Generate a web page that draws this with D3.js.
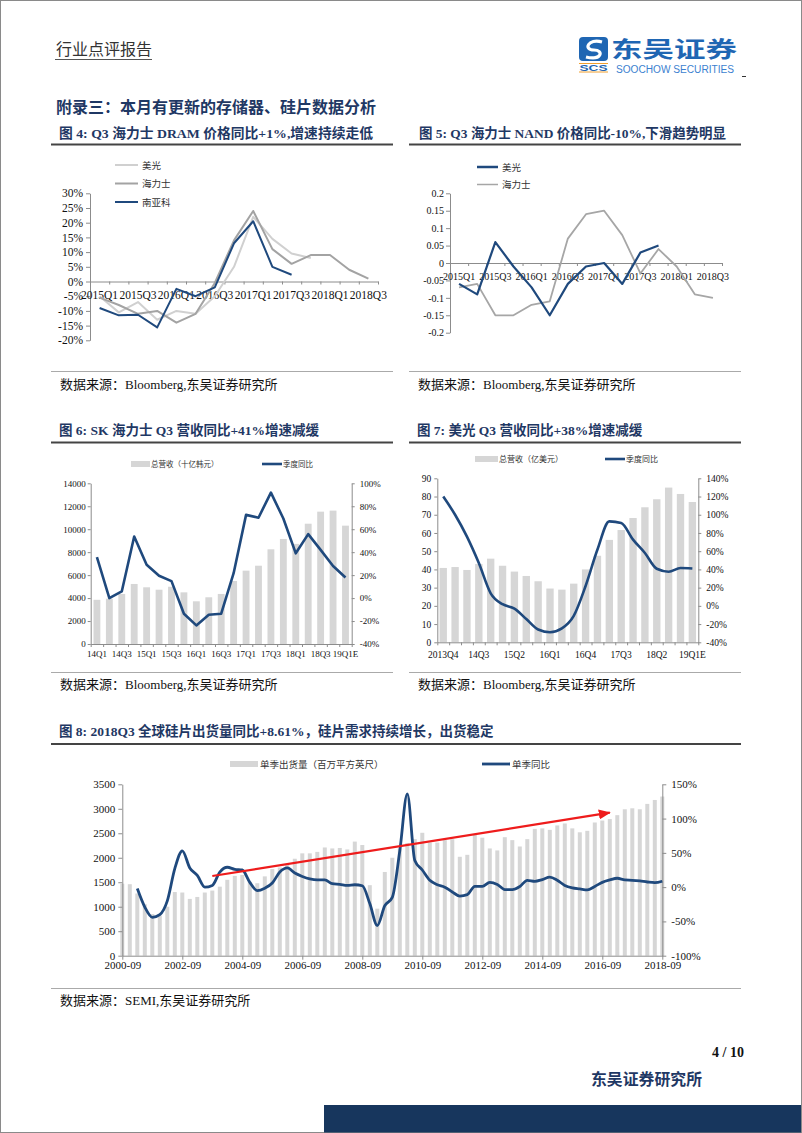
<!DOCTYPE html>
<html><head><meta charset="utf-8">
<script src="https://cdn.jsdelivr.net/npm/d3@7"></script>
<style>
body{margin:0;background:#fff;}
svg{display:block;}
</style></head><body>
<svg id="page" width="802" height="1133"></svg>
<script>
// ---------------- DATA ----------------
// Fig 4: DRAM price YoY (%)
const dramQuarters = ["2015Q1","2015Q2","2015Q3","2015Q4","2016Q1","2016Q2","2016Q3","2016Q4","2017Q1","2017Q2","2017Q3","2017Q4","2018Q1","2018Q2","2018Q3"];
const dramXLabels = ["2015Q1","2015Q3","2016Q1","2016Q3","2017Q1","2017Q3","2018Q1","2018Q3"];
const dramYTicks = [-20,-15,-10,-5,0,5,10,15,20,25,30];
const dramMicron = [-5,-10.5,-7,-13,-10,-11,-5,5,22,14.5,9.5,8];
const dramHynix  = [-5.5,-8,-11,-10,-14,-11,-0.5,14,24,11,6,9,9,4,1];
const dramNanya  = [-9,-11.5,-11.3,-15.6,-2.5,-5,-2,13,20.5,5,2.3];

// Fig 5: NAND price YoY
const nandQuarters = ["2015Q1","2015Q2","2015Q3","2015Q4","2016Q1","2016Q2","2016Q3","2016Q4","2017Q1","2017Q2","2017Q3","2017Q4","2018Q1","2018Q2","2018Q3"];
const nandXLabels = ["2015Q1","2015Q3","2016Q1","2016Q3","2017Q1","2017Q3","2018Q1","2018Q3"];
const nandYTicks = [-0.2,-0.15,-0.1,-0.05,0,0.05,0.1,0.15,0.2];
const nandMicron = [-0.06,-0.09,0.06,-0.01,-0.07,-0.15,-0.06,-0.01,0,-0.06,0.03,0.05];
const nandHynix  = [-0.07,-0.06,-0.15,-0.15,-0.12,-0.11,0.07,0.14,0.15,0.08,-0.03,0.04,-0.01,-0.09,-0.10];

// Fig 6: SK hynix revenue
const skQuarters = ["14Q1","14Q2","14Q3","14Q4","15Q1","15Q2","15Q3","15Q4","16Q1","16Q2","16Q3","16Q4","17Q1","17Q2","17Q3","17Q4","18Q1","18Q2","18Q3","18Q4","19Q1E"];
const skXLabels = ["14Q1","14Q3","15Q1","15Q3","16Q1","16Q3","17Q1","17Q3","18Q1","18Q3","19Q1E"];
const skRevenue = [3850,3950,4360,5230,4940,4730,4990,4500,3720,4070,4360,5490,6390,6820,8250,9150,8720,10480,11530,11620,10310];
const skYoY = [35.6,0,5.8,53.6,29,19.4,14.8,-13.6,-23.8,-14.5,-13.6,21.7,72.5,70,91.9,69.3,39,55.7,42,28,18];
const skLeftTicks = [0,2000,4000,6000,8000,10000,12000,14000];
const skRightTicks = [-40,-20,0,20,40,60,80,100];

// Fig 7: Micron revenue
const muQuarters = ["2013Q4","14Q1","14Q2","14Q3","14Q4","15Q1","15Q2","15Q3","15Q4","16Q1","16Q2","16Q3","16Q4","17Q1","17Q2","17Q3","17Q4","18Q1","18Q2","18Q3","18Q4","19Q1E"];
const muXLabels = ["2013Q4","14Q3","15Q2","16Q1","16Q4","17Q3","18Q2","19Q1E"];
const muRevenue = [40.8,41.3,39.7,43,45.9,42,38.8,36.4,33.5,29.5,28.9,32.2,40,47.5,56.2,61.6,68.2,74.1,78.5,84.9,81.4,77];
const muYoY = [120,100,76,47,13.8,1.8,-3,-14.5,-26,-29,-24.7,-11,21.8,61.8,92.7,91,72.7,58,40.7,37.5,41.5,41];
const muLeftTicks = [0,10,20,30,40,50,60,70,80,90];
const muRightTicks = [-40,-20,0,20,40,60,80,100,120,140];

// Fig 8: global silicon wafer shipments
const waferDates = [
 "2000-09","2000-12",
 "2001-03","2001-06","2001-09","2001-12",
 "2002-03","2002-06","2002-09","2002-12",
 "2003-03","2003-06","2003-09","2003-12",
 "2004-03","2004-06","2004-09","2004-12",
 "2005-03","2005-06","2005-09","2005-12",
 "2006-03","2006-06","2006-09","2006-12",
 "2007-03","2007-06","2007-09","2007-12",
 "2008-03","2008-06","2008-09","2008-12",
 "2009-03","2009-06","2009-09","2009-12",
 "2010-03","2010-06","2010-09","2010-12",
 "2011-03","2011-06","2011-09","2011-12",
 "2012-03","2012-06","2012-09","2012-12",
 "2013-03","2013-06","2013-09","2013-12",
 "2014-03","2014-06","2014-09","2014-12",
 "2015-03","2015-06","2015-09","2015-12",
 "2016-03","2016-06","2016-09","2016-12",
 "2017-03","2017-06","2017-09","2017-12",
 "2018-03","2018-06","2018-09"];
const waferXLabels = ["2000-09","2002-09","2004-09","2006-09","2008-09","2010-09","2012-09","2014-09","2016-09","2018-09"];
const waferShip = [1470,1460,1270,1050,850,820,1000,1300,1290,1160,
 1200,1290,1330,1410,1550,1630,1650,1510,1480,1620,
 1770,1800,1850,1980,2090,2090,2120,2210,2190,2200,
 2170,2330,2260,1440,960,1710,2000,2190,2300,2380,
 2510,2310,2310,2360,2380,2020,2060,2470,2410,2190,
 2150,2420,2360,2230,2380,2590,2600,2570,2660,2700,
 2600,2520,2550,2720,2760,2790,2870,2990,3010,2990,
 3100,3180,3250];
const waferYoY = [null,null,-2,-29,-44,-40,-20,27,53,28,
 17,0,2.5,22,29,26,25,7,-5,-1.5,
 6,22,28,20.5,15.5,12,10.5,10.5,5,4,
 2.5,3.5,2,-24,-56,-27,-15,53,136,39,
 25,10,3.5,0,-7,-13,-11,1,1,7,
 4,-3.5,-3.5,1,10,8.5,11,14.5,10,2.5,
 -1,-2.5,-4,1,7,10.5,13,10.5,10,9,
 7.5,6.5,8.61];
const waferLeftTicks = [0,500,1000,1500,2000,2500,3000,3500];
const waferRightTicks = [-100,-50,0,50,100,150];
// trend arrow annotation: [date, shipment value]
const trendArrow = [["2003-09",1627],["2016-12",2920]];

// ---------------- DRAWING ----------------
const FONT = '"Liberation Serif","Noto Sans CJK SC",serif';
const NAVY = "#1f497d";
const TITLE = "#1f3864";
const AX = "#8c8c8c";
const BAR = "#d6d6d6";
const intFmt = d3.format("d");
const svg = d3.select("#page");

function txt(x,y,s,o={}){
  const t = svg.append("text").attr("x",x).attr("y",y).text(s)
    .attr("font-family",o.ff||FONT).attr("font-size",o.fs||13)
    .attr("fill",o.fill||"#111").attr("font-weight",o.fw||"normal")
    .attr("text-anchor",o.anchor||"start");
  if(o.tl) t.attr("textLength",o.tl).attr("lengthAdjust","spacingAndGlyphs");
  return t;
}
function hline(x1,x2,y,c,w){
  svg.append("line").attr("x1",x1).attr("x2",x2).attr("y1",y).attr("y2",y).attr("stroke",c).attr("stroke-width",w);
}
function styleAx(g,fs){
  g.attr("font-family",FONT).attr("font-size",fs);
  g.select(".domain").attr("stroke",AX);
  g.selectAll(".tick line").attr("stroke",AX);
  g.selectAll(".tick text").attr("fill","#111");
}

// page border
svg.append("rect").attr("x",0.5).attr("y",0.5).attr("width",801).attr("height",1132).attr("fill","none").attr("stroke","#8a8a8a");

// header
txt(56,55,"行业点评报告",{fs:16,fill:"#333"});
hline(55,152,59.5,"#555",1);
// logo
svg.append("rect").attr("x",579).attr("y",37).attr("width",29).attr("height",24).attr("rx",4).attr("fill","#1f66b3");
svg.append("path").attr("d","M602,42 C588,38 583,50 594,50 C604,50 602,61 586,57").attr("fill","none").attr("stroke","#fff").attr("stroke-width",3.2);
hline(579,608,63.5,"#f0a030",1);
txt(593.5,70.5,"SCS",{ff:'"Liberation Sans",sans-serif',fs:8.5,fw:"bold",fill:"#1f66b3",anchor:"middle",tl:28});
hline(579,608,72,"#f0a030",1);
txt(611,57,"东吴证券",{ff:'"Noto Sans CJK SC",sans-serif',fs:22,fw:"bold",fill:"#1f66b3",tl:126});
txt(616,72.5,"SOOCHOW SECURITIES",{ff:'"Liberation Sans",sans-serif',fs:10,fill:"#3b7fd0",tl:118});
hline(742,746,76.5,"#333",1);

// section title
txt(56,113,"附录三：本月有更新的存储器、硅片数据分析",{fs:16,fw:"bold",fill:TITLE});

// figure titles and rules
txt(59,138,"图 4:  Q3 海力士  DRAM 价格同比+1%,增速持续走低",{fs:13.5,fw:"bold",fill:TITLE,tl:314});
txt(419,138,"图 5:  Q3 海力士 NAND 价格同比-10%,下滑趋势明显",{fs:13.5,fw:"bold",fill:TITLE,tl:307});
hline(51,393,144.5,"#444",2);
hline(409,741,144.5,"#444",2);
hline(51,393,371.5,"#aaa",1.2);
hline(409,741,371.5,"#aaa",1.2);
txt(60,389,"数据来源：Bloomberg,东吴证券研究所",{fs:13});
txt(418,389,"数据来源：Bloomberg,东吴证券研究所",{fs:13});

txt(59,435,"图 6:  SK 海力士 Q3 营收同比+41%增速减缓",{fs:13.5,fw:"bold",fill:TITLE});
txt(417,435,"图 7:  美光 Q3 营收同比+38%增速减缓",{fs:13.5,fw:"bold",fill:TITLE});
hline(51,393,442.5,"#444",2);
hline(409,741,442.5,"#444",2);
hline(51,393,672.5,"#aaa",1.2);
hline(409,741,672.5,"#aaa",1.2);
txt(60,689,"数据来源：Bloomberg,东吴证券研究所",{fs:13});
txt(418,689,"数据来源：Bloomberg,东吴证券研究所",{fs:13});

txt(59,736,"图 8:  2018Q3 全球硅片出货量同比+8.61%，硅片需求持续增长，出货稳定",{fs:13.5,fw:"bold",fill:TITLE});
hline(51,741,744,"#444",2);
hline(51,741,988.5,"#aaa",1.2);
txt(60,1005,"数据来源：SEMI,东吴证券研究所",{fs:13});

// footer
txt(744,1057,"4 / 10",{fs:14,fw:"bold",anchor:"end"});
txt(591,1085,"东吴证券研究所",{fs:16,fw:"bold",fill:TITLE,tl:111});
svg.append("rect").attr("x",324).attr("y",1105).attr("width",477).attr("height",27.5).attr("fill","#17365d");

// ---------- generic line chart (fig 4, 5) ----------
function lineChart(cfg){
  const {cats,x0,x1,yT,yB,dom,ticks,fmt,fs,series,xLabels,labelDy,legend} = cfg;
  const g = svg.append("g");
  const xb = d3.scaleBand().domain(cats).range([x0,x1]);
  const cx = c => xb(c)+xb.bandwidth()/2;
  const y = d3.scaleLinear().domain(dom).range([yB,yT]);
  const ya = g.append("g").attr("transform",`translate(${x0},0)`)
    .call(d3.axisLeft(y).tickValues(ticks).tickFormat(fmt).tickSize(4).tickSizeOuter(0).tickPadding(cfg.pad||3));
  styleAx(ya,fs);
  const xi = d3.scaleLinear().domain([0,cats.length]).range([x0,x1]);
  const xa = g.append("g").attr("transform",`translate(0,${y(0)})`)
    .call(d3.axisBottom(xi).tickValues(d3.range(cats.length+1)).tickFormat("").tickSize(3).tickSizeOuter(0));
  styleAx(xa,fs);
  g.selectAll("text.xl").data(xLabels).join("text").attr("class","xl")
    .attr("x",d=>cx(d)).attr("y",y(0)+labelDy).attr("text-anchor","middle")
    .attr("font-family",FONT).attr("font-size",fs).attr("fill","#111").text(d=>d);
  series.forEach(s=>{
    const line = d3.line().x((d,i)=>cx(cats[i])).y(d=>y(d));
    g.append("path").datum(s.values).attr("d",line).attr("fill","none")
      .attr("stroke",s.color).attr("stroke-width",s.w).attr("stroke-linejoin","round");
  });
  legend.items.forEach((it,k)=>{
    const ly = legend.y + k*legend.dy;
    g.append("line").attr("x1",legend.x).attr("x2",legend.x+legend.len).attr("y1",ly).attr("y2",ly)
      .attr("stroke",it.color).attr("stroke-width",it.w);
    g.append("text").attr("x",legend.x+legend.len+4).attr("y",ly+3.5).attr("font-family",FONT)
      .attr("font-size",legend.fs).attr("fill","#333").text(it.name);
  });
}

lineChart({cats:dramQuarters,x0:90,x1:378,yT:193.3,yB:340.3,dom:[-20,30],ticks:dramYTicks,
  fmt:d=>d+"%",fs:11.5,pad:3,xLabels:dramXLabels,labelDy:17,
  series:[{values:dramMicron,color:"#d0d0d0",w:2},{values:dramHynix,color:"#a3a3a3",w:2},{values:dramNanya,color:NAVY,w:2}],
  legend:{x:115,y:165,dy:18.5,len:23,fs:9.5,items:[{name:"美光",color:"#d0d0d0",w:2},{name:"海力士",color:"#a3a3a3",w:2},{name:"南亚科",color:NAVY,w:2}]}});

lineChart({cats:nandQuarters,x0:450,x1:722,yT:193.3,yB:332.7,dom:[-0.2,0.2],ticks:nandYTicks,
  fmt:d=>String(d),fs:10,pad:2,xLabels:nandXLabels,labelDy:16.5,
  series:[{values:nandHynix,color:"#a6a6a6",w:1.8},{values:nandMicron,color:NAVY,w:2.2}],
  legend:{x:477,y:167,dy:17.5,len:21,fs:9.5,items:[{name:"美光",color:NAVY,w:2.5},{name:"海力士",color:"#a6a6a6",w:1.5}]}});

// ---------- combo bar + line chart (fig 6, 7) ----------
function comboChart(cfg){
  const {cats,x0,x1,yT,yB,lDom,rDom,lTicks,rTicks,bars,line,fs,xLabels,pad,curve,lg} = cfg;
  const g = svg.append("g");
  const xb = d3.scaleBand().domain(cats).range([x0,x1]).paddingInner(pad).paddingOuter(pad/2);
  const xf = d3.scaleBand().domain(cats).range([x0,x1]);
  const cx = c => xf(c)+xf.bandwidth()/2;
  const yL = d3.scaleLinear().domain(lDom).range([yB,yT]);
  const yR = d3.scaleLinear().domain(rDom).range([yB,yT]);
  g.selectAll("rect.b").data(bars).join("rect").attr("class","b")
    .attr("x",(d,i)=>cx(cats[i])-xb.bandwidth()/2).attr("width",xb.bandwidth())
    .attr("y",d=>yL(d)).attr("height",d=>yB-yL(d)).attr("fill",BAR);
  const la = g.append("g").attr("transform",`translate(${x0},0)`)
    .call(d3.axisLeft(yL).tickValues(lTicks).tickFormat(intFmt).tickSize(3).tickSizeOuter(0).tickPadding(cfg.lpad));
  styleAx(la,fs);
  const ra = g.append("g").attr("transform",`translate(${x1},0)`)
    .call(d3.axisRight(yR).tickValues(rTicks).tickFormat(d=>d+"%").tickSize(3).tickSizeOuter(0).tickPadding(cfg.rpad));
  styleAx(ra,fs);
  const xi = d3.scaleLinear().domain([0,cats.length]).range([x0,x1]);
  const xa = g.append("g").attr("transform",`translate(0,${yB})`)
    .call(d3.axisBottom(xi).tickValues(d3.range(cats.length+1)).tickFormat("").tickSize(3).tickSizeOuter(0));
  styleAx(xa,fs);
  g.selectAll("text.xl").data(xLabels).join("text").attr("class","xl")
    .attr("x",d=>cx(d)).attr("y",yB+cfg.labelDy).attr("text-anchor","middle")
    .attr("font-family",FONT).attr("font-size",fs).attr("fill","#111").text(d=>d);
  const ln = d3.line().x((d,i)=>cx(cats[i])).y(d=>yR(d)).curve(curve);
  g.append("path").datum(line).attr("d",ln).attr("fill","none").attr("stroke",NAVY)
    .attr("stroke-width",2.6).attr("stroke-linejoin","round");
  // legend
  g.append("rect").attr("x",lg.rx).attr("y",lg.y-3).attr("width",lg.rw).attr("height",6).attr("fill",BAR);
  g.append("text").attr("x",lg.rx+lg.rw+1).attr("y",lg.y+3).attr("font-family",FONT).attr("font-size",lg.fs).attr("fill","#333").text(lg.barName);
  g.append("line").attr("x1",lg.lx).attr("x2",lg.lx+lg.lw).attr("y1",lg.y).attr("y2",lg.y).attr("stroke",NAVY).attr("stroke-width",2.6);
  g.append("text").attr("x",lg.lx+lg.lw+1).attr("y",lg.y+3).attr("font-family",FONT).attr("font-size",lg.fs).attr("fill","#333").text(lg.lineName);
}

comboChart({cats:skQuarters,x0:90.7,x1:351.7,yT:483.3,yB:644,lDom:[0,14000],rDom:[-40,100],
  lTicks:skLeftTicks,rTicks:skRightTicks,bars:skRevenue,line:skYoY,fs:9,xLabels:skXLabels,pad:0.45,
  lpad:2,rpad:5,labelDy:13,curve:d3.curveLinear,
  lg:{rx:131,rw:19,y:464,lx:262,lw:20,fs:7.5,barName:"总营收（十亿韩元）",lineName:"季度同比"}});

comboChart({cats:muQuarters,x0:437.3,x1:698.3,yT:478.3,yB:642.3,lDom:[0,90],rDom:[-40,140],
  lTicks:muLeftTicks,rTicks:muRightTicks,bars:muRevenue,line:muYoY,fs:9.5,xLabels:muXLabels,pad:0.38,
  lpad:3,rpad:5,labelDy:16,curve:d3.curveMonotoneX,
  lg:{rx:475,rw:23,y:459,lx:605,lw:20,fs:8,barName:"总营收（亿美元）",lineName:"季度同比"}});

// ---------- fig 8 ----------
(function(){
  const x0=122.3,x1=662.3,yT=784.3,yB=955.7,fs=11;
  const g = svg.append("g");
  const x = d3.scalePoint().domain(waferDates).range([x0,x1]);
  const yL = d3.scaleLinear().domain([0,3500]).range([yB,yT]);
  const yR = d3.scaleLinear().domain([-100,150]).range([yB,yT]);
  const bw = 4;
  g.selectAll("rect.b").data(waferShip).join("rect").attr("class","b")
    .attr("x",(d,i)=>x(waferDates[i])-bw/2).attr("width",bw)
    .attr("y",d=>yL(d)).attr("height",d=>yB-yL(d)).attr("fill",BAR);
  const la = g.append("g").attr("transform",`translate(${x0},0)`)
    .call(d3.axisLeft(yL).tickValues(waferLeftTicks).tickFormat(intFmt).tickSize(4).tickSizeOuter(0).tickPadding(3));
  styleAx(la,fs);
  const ra = g.append("g").attr("transform",`translate(${x1},0)`)
    .call(d3.axisRight(yR).tickValues(waferRightTicks).tickFormat(d=>d+"%").tickSize(4).tickSizeOuter(0).tickPadding(5));
  styleAx(ra,fs);
  const xa = g.append("g").attr("transform",`translate(0,${yB})`)
    .call(d3.axisBottom(x).tickValues(waferXLabels).tickSize(4).tickSizeOuter(0).tickPadding(2));
  styleAx(xa,fs);
  const ln = d3.line().defined(d=>d!=null).x((d,i)=>x(waferDates[i])).y(d=>yR(d)).curve(d3.curveMonotoneX);
  g.append("path").datum(waferYoY).attr("d",ln).attr("fill","none").attr("stroke",NAVY)
    .attr("stroke-width",2.8).attr("stroke-linejoin","round");
  // arrow
  svg.append("defs").append("marker").attr("id","arr").attr("markerUnits","userSpaceOnUse")
    .attr("markerWidth",12).attr("markerHeight",10).attr("refX",11).attr("refY",5).attr("orient","auto")
    .append("path").attr("d","M0,0 L12,5 L0,10 z").attr("fill","#ee1c1c");
  g.append("line").attr("x1",x(trendArrow[0][0])).attr("y1",yL(trendArrow[0][1]))
    .attr("x2",x(trendArrow[1][0])).attr("y2",yL(trendArrow[1][1]))
    .attr("stroke","#ee1c1c").attr("stroke-width",2.2).attr("marker-end","url(#arr)");
  // legend
  g.append("rect").attr("x",230).attr("y",761).attr("width",28).attr("height",6).attr("fill",BAR);
  g.append("text").attr("x",260).attr("y",767.5).attr("font-family",FONT).attr("font-size",9.5).attr("fill","#333").text("单季出货量（百万平方英尺）");
  g.append("line").attr("x1",482).attr("x2",510).attr("y1",764).attr("y2",764).attr("stroke",NAVY).attr("stroke-width",2.8);
  g.append("text").attr("x",512).attr("y",767.5).attr("font-family",FONT).attr("font-size",9.5).attr("fill","#333").text("单季同比");
})();
</script>
</body></html>
